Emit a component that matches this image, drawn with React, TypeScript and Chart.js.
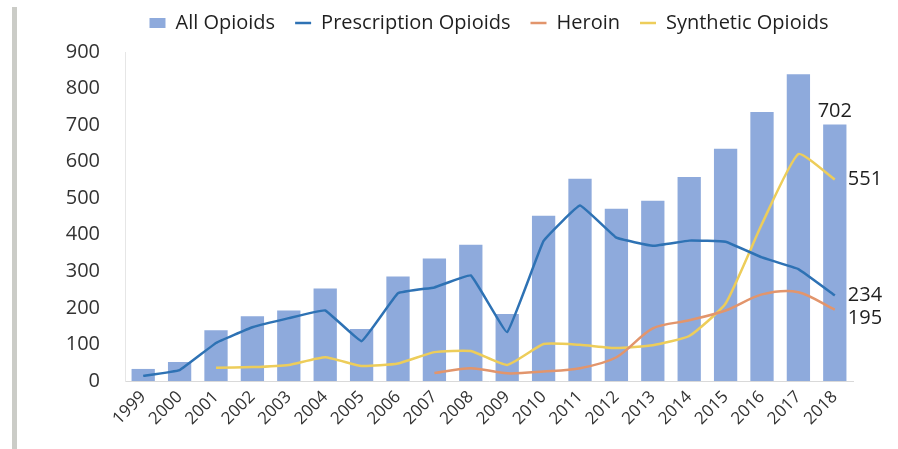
import { useEffect, useRef } from "react";
import { Chart, registerables } from "chart.js";

Chart.register(...registerables);

const YEARS = [
  "1999", "2000", "2001", "2002", "2003", "2004", "2005", "2006", "2007", "2008",
  "2009", "2010", "2011", "2012", "2013", "2014", "2015", "2016", "2017", "2018",
];
const ALL_OPIOIDS = [33, 52, 139, 177, 193, 253, 142, 286, 335, 373, 183, 452, 553, 471, 493, 558, 635, 736, 839, 702];
const PRESCRIPTION = [14, 30, 104, 147, 172, 193, 109, 240, 256, 289, 134, 383, 480, 392, 370, 384, 381, 338, 306, 234];
const HEROIN = [null, null, null, null, null, null, null, null, 22, 35, 21, 26, 35, 65, 144, 166, 193, 237, 243, 195];
const SYNTHETIC = [null, null, 36, 38, 44, 65, 41, 48, 79, 82, 44, 101, 99, 90, 98, 123, 212, 430, 621, 551];
const Y_TICKS = [0, 100, 200, 300, 400, 500, 600, 700, 800, 900];

const FONT = "'Open Sans', 'DejaVu Sans', sans-serif";
const TEXT = "#1f1f1f";

// value labels next to the last point of every series
const endLabels = {
  id: "endLabels",
  afterDatasetsDraw(chart: any) {
    const { ctx } = chart;
    ctx.save();
    ctx.font = `20px ${FONT}`;
    ctx.fillStyle = TEXT;
    chart.data.datasets.forEach((ds: any, i: number) => {
      const meta = chart.getDatasetMeta(i);
      const last = ds.data.length - 1;
      const el = meta.data[last];
      if (!el) return;
      const v = String(ds.data[last]);
      if (meta.type === "bar") {
        ctx.textAlign = "center";
        ctx.textBaseline = "bottom";
        ctx.fillText(v, el.x, el.y - 3);
      } else {
        ctx.textAlign = "left";
        ctx.textBaseline = "middle";
        ctx.fillText(v, el.x + 13, el.y + (ds.labelDy || 0));
      }
    });
    ctx.restore();
  },
};

// extra room between the legend and the plot
const legendGap = {
  id: "legendGap",
  beforeInit(chart: any) {
    const fit = chart.legend.fit;
    chart.legend.fit = function () {
      fit.call(this);
      this.height += 9;
    };
  },
};

export default function App() {
  const canvasRef = useRef<HTMLCanvasElement>(null);

  useEffect(() => {
    if (!canvasRef.current) return;
    const chart = new Chart(canvasRef.current, {
      type: "bar",
      data: {
        labels: YEARS,
        datasets: [
          {
            type: "bar",
            label: "All Opioids",
            data: ALL_OPIOIDS,
            backgroundColor: "#8eaadc",
            categoryPercentage: 1,
            barPercentage: 0.64,
            pointStyle: "rect",
            order: 1,
          },
          {
            type: "line",
            label: "Prescription Opioids",
            data: PRESCRIPTION,
            borderColor: "#2e72b4",
            backgroundColor: "#2e72b4",
            borderWidth: 2.5,
            pointRadius: 0,
            tension: 0.08,
            pointStyle: "line",
            order: 0,
          },
          {
            type: "line",
            label: "Heroin",
            data: HEROIN,
            borderColor: "#e2956c",
            backgroundColor: "#e2956c",
            borderWidth: 2.5,
            pointRadius: 0,
            tension: 0.3,
            pointStyle: "line",
            order: 0,
            labelDy: 9,
          } as any,
          {
            type: "line",
            label: "Synthetic Opioids",
            data: SYNTHETIC,
            borderColor: "#edcd5a",
            backgroundColor: "#edcd5a",
            borderWidth: 2.5,
            pointRadius: 0,
            tension: 0.15,
            pointStyle: "line",
            order: 0,
          },
        ],
      },
      options: {
        animation: false,
        responsive: true,
        maintainAspectRatio: false,
        layout: { padding: { left: 0, right: 45, top: 0, bottom: 0 } },
        plugins: {
          tooltip: { enabled: false },
          legend: {
            position: "top",
            fullSize: false,
            labels: {
              usePointStyle: true,
              pointStyleWidth: 16,
              boxHeight: 10,
              padding: 20,
              color: TEXT,
              font: { family: FONT, size: 20 },
              sort: (a: any, b: any) => a.datasetIndex - b.datasetIndex,
            },
          },
        },
        scales: {
          x: {
            grid: { display: false, drawTicks: false },
            border: { display: true, color: "#d9d9d9", width: 1 },
            ticks: {
              autoSkip: false,
              minRotation: 45,
              maxRotation: 45,
              padding: 6,
              color: "#333333",
              font: { family: FONT, size: 17 },
            },
            afterFit(scale: any) {
              scale.height = 68;
            },
          },
          y: {
            min: 0,
            max: 900,
            grid: { display: false, drawTicks: false },
            border: { display: true, color: "#e6e6e6", width: 1 },
            afterBuildTicks(scale: any) {
              scale.ticks = Y_TICKS.map((value) => ({ value }));
            },
            ticks: {
              padding: 25,
              color: "#333333",
              font: { family: FONT, size: 20 },
            },
            afterFit(scale: any) {
              scale.width = 125;
            },
          },
        },
      },
      plugins: [endLabels, legendGap],
    });
    return () => chart.destroy();
  }, []);

  return (
    <div
      style={{
        position: "fixed",
        left: 0,
        top: 0,
        width: 898,
        height: 449,
        background: "#ffffff",
        overflow: "hidden",
      }}
    >
      <div
        style={{
          position: "absolute",
          left: 12,
          top: 7,
          width: 5,
          height: 442,
          background: "#cbccc7",
        }}
      />
      <div style={{ position: "absolute", left: 0, top: -7, width: 898, height: 456 }}>
        <canvas ref={canvasRef} />
      </div>
    </div>
  );
}
